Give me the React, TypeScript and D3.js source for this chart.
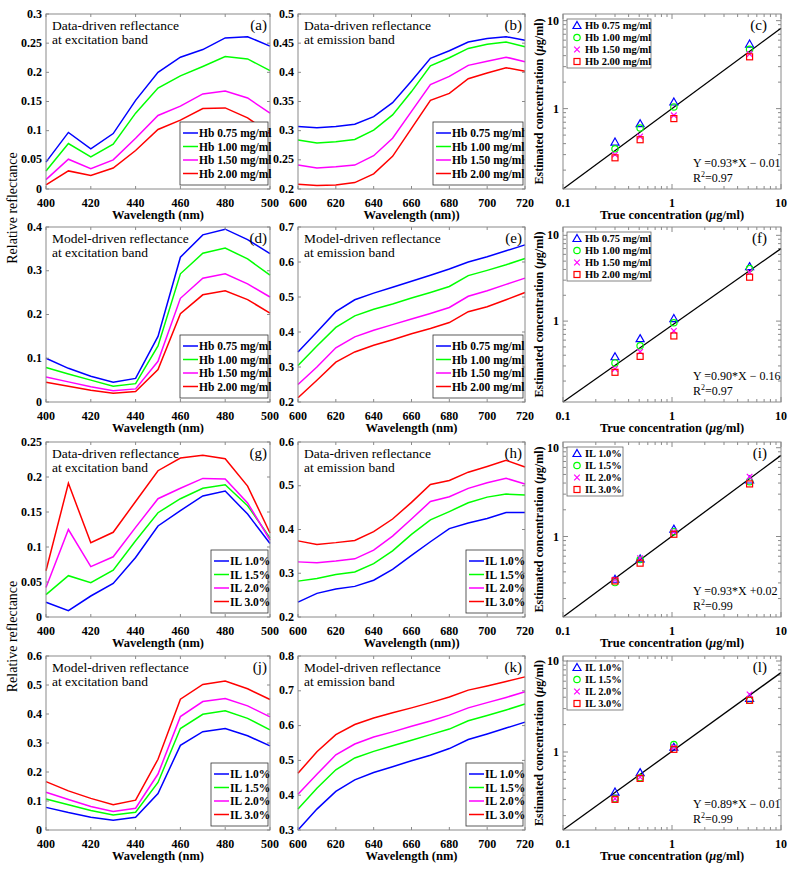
import React from 'react';
import * as d3 from 'd3';

const FONT = '"Liberation Serif","Times New Roman",Times,serif';
const COLORS = ['#0000ff', '#00ff00', '#ff00ff', '#ff0000'];
const HB_LABELS = ['Hb 0.75 mg/ml', 'Hb 1.00 mg/ml', 'Hb 1.50 mg/ml', 'Hb 2.00 mg/ml'];
const IL_LABELS = ['IL 1.0%', 'IL 1.5%', 'IL 2.0%', 'IL 3.0%'];

const WL_EX = [400, 410, 420, 430, 440, 450, 460, 470, 480, 490, 500];
const WL_EM = [600, 610, 620, 630, 640, 650, 660, 670, 680, 690, 700, 710, 720];
const X_TICKS_EX = [400, 420, 440, 460, 480, 500];
const X_TICKS_EM = [600, 620, 640, 660, 680, 700, 720];

// (a) data-driven excitation, Hb
const A_SERIES = [
  [0.046, 0.097, 0.069, 0.095, 0.152, 0.2, 0.226, 0.239, 0.259, 0.261, 0.245],
  [0.031, 0.078, 0.055, 0.077, 0.13, 0.173, 0.194, 0.21, 0.227, 0.223, 0.203],
  [0.016, 0.051, 0.035, 0.05, 0.087, 0.126, 0.142, 0.163, 0.168, 0.156, 0.13],
  [0.007, 0.031, 0.023, 0.036, 0.066, 0.102, 0.118, 0.138, 0.139, 0.122, 0.095],
];
// (b) data-driven emission, Hb
const B_SERIES = [
  [0.307, 0.305, 0.307, 0.311, 0.324, 0.348, 0.385, 0.424, 0.437, 0.452, 0.458, 0.461, 0.455],
  [0.284, 0.279, 0.281, 0.285, 0.301, 0.327, 0.367, 0.411, 0.425, 0.441, 0.448, 0.452, 0.444],
  [0.241, 0.236, 0.238, 0.241, 0.257, 0.287, 0.333, 0.379, 0.393, 0.412, 0.419, 0.426, 0.418],
  [0.208, 0.206, 0.207, 0.211, 0.226, 0.256, 0.304, 0.352, 0.364, 0.389, 0.399, 0.408, 0.402],
];
// (d) model-driven excitation, Hb
const D_SERIES = [
  [0.1, 0.077, 0.059, 0.045, 0.054, 0.15, 0.331, 0.382, 0.395, 0.371, 0.339],
  [0.079, 0.064, 0.05, 0.036, 0.042, 0.128, 0.293, 0.34, 0.352, 0.327, 0.29],
  [0.057, 0.046, 0.035, 0.026, 0.03, 0.093, 0.237, 0.283, 0.293, 0.27, 0.24],
  [0.045, 0.036, 0.027, 0.02, 0.024, 0.074, 0.202, 0.245, 0.254, 0.234, 0.203],
];
// (e) model-driven emission, Hb
const E_SERIES = [
  [0.343, 0.4, 0.458, 0.492, 0.511, 0.528, 0.545, 0.562, 0.58, 0.6, 0.615, 0.632, 0.649],
  [0.304, 0.36, 0.413, 0.446, 0.465, 0.48, 0.497, 0.513, 0.53, 0.561, 0.576, 0.592, 0.61],
  [0.25, 0.3, 0.355, 0.386, 0.405, 0.421, 0.437, 0.453, 0.47, 0.502, 0.518, 0.536, 0.554],
  [0.212, 0.262, 0.314, 0.343, 0.362, 0.378, 0.395, 0.41, 0.427, 0.458, 0.472, 0.492, 0.513],
];
// (g) data-driven excitation, IL
const G_SERIES = [
  [0.021, 0.009, 0.03, 0.048, 0.085, 0.13, 0.152, 0.173, 0.18, 0.147, 0.105],
  [0.032, 0.059, 0.049, 0.067, 0.109, 0.149, 0.169, 0.184, 0.189, 0.159, 0.113],
  [0.042, 0.125, 0.072, 0.086, 0.128, 0.169, 0.184, 0.198, 0.197, 0.163, 0.11],
  [0.066, 0.191, 0.106, 0.121, 0.165, 0.209, 0.227, 0.231, 0.226, 0.187, 0.12],
];
// (h) data-driven emission, IL
const H_SERIES = [
  [0.234, 0.254, 0.264, 0.27, 0.284, 0.309, 0.341, 0.372, 0.402, 0.415, 0.425, 0.439, 0.439],
  [0.282, 0.288, 0.297, 0.303, 0.322, 0.351, 0.389, 0.422, 0.441, 0.461, 0.474, 0.481, 0.479],
  [0.326, 0.324, 0.328, 0.333, 0.353, 0.385, 0.424, 0.464, 0.475, 0.494, 0.507, 0.517, 0.504],
  [0.374, 0.366, 0.37, 0.375, 0.395, 0.424, 0.462, 0.503, 0.512, 0.531, 0.544, 0.558, 0.543],
];
// (j) model-driven excitation, IL
const J_SERIES = [
  [0.078, 0.06, 0.044, 0.034, 0.044, 0.126, 0.292, 0.339, 0.35, 0.325, 0.29],
  [0.107, 0.087, 0.067, 0.052, 0.061, 0.164, 0.35, 0.399, 0.411, 0.385, 0.345],
  [0.13, 0.105, 0.081, 0.064, 0.075, 0.193, 0.391, 0.443, 0.453, 0.428, 0.39],
  [0.167, 0.135, 0.109, 0.087, 0.103, 0.244, 0.451, 0.502, 0.514, 0.487, 0.45],
];
// (k) model-driven emission, IL
const K_SERIES = [
  [0.3, 0.36, 0.411, 0.444, 0.465, 0.482, 0.499, 0.515, 0.534, 0.56, 0.576, 0.593, 0.61],
  [0.36, 0.42, 0.473, 0.507, 0.526, 0.542, 0.558, 0.574, 0.59, 0.614, 0.629, 0.645, 0.662],
  [0.403, 0.46, 0.516, 0.547, 0.567, 0.582, 0.598, 0.613, 0.63, 0.651, 0.666, 0.681, 0.697],
  [0.463, 0.525, 0.574, 0.603, 0.622, 0.637, 0.651, 0.666, 0.682, 0.702, 0.714, 0.727, 0.74],
];

// scatter panels: true concentration vs estimated
const TRUE_CONC = [0.3, 0.51, 1.04, 5.15];
const C_SERIES = [
  [0.417, 0.674, 1.19, 5.42],
  [0.35, 0.602, 1.045, 4.71],
  [0.3, 0.483, 0.84, 4.17],
  [0.276, 0.443, 0.77, 3.88],
];
const F_SERIES = [
  [0.384, 0.625, 1.07, 4.31],
  [0.325, 0.515, 0.956, 4.09],
  [0.277, 0.439, 0.767, 3.71],
  [0.253, 0.388, 0.671, 3.25],
];
const I_SERIES = [
  [0.33, 0.56, 1.21, 4.33],
  [0.303, 0.55, 1.13, 4.15],
  [0.327, 0.57, 1.13, 4.72],
  [0.316, 0.501, 1.06, 3.91],
];
const L_SERIES = [
  [0.363, 0.593, 1.13, 3.89],
  [0.307, 0.523, 1.21, 3.7],
  [0.307, 0.53, 1.13, 4.3],
  [0.302, 0.513, 1.07, 3.7],
];
const FIT_C = [[0.1, 0.122], [10, 8.2]];
const FIT_F = [[0.1, 0.114], [10, 7.0]];
const FIT_I = [[0.1, 0.124], [10, 8.2]];
const FIT_L = [[0.1, 0.139], [10, 7.45]];

const COLS = [[46, 270], [298, 525], [563, 781]];
const ROWS = [[14, 189], [227, 402], [442, 617], [656, 830]];
const AXIS_GRAY = '#8a8a8a';

type LineCfg = {
  col: number; row: number; wl: number[]; series: number[][]; xDomain: number[]; xTicks: number[];
  yDomain: number[]; yTicks: number[]; titles: string[]; tag: string; legend: string[]; legendW: number; xLabel: string;
};

function fmt(v: number) {
  return String(+v.toFixed(3));
}

function LinePanel({ c }: { c: LineCfg }) {
  const [x0, x1] = COLS[c.col];
  const [y0, y1] = ROWS[c.row];
  const xs = d3.scaleLinear().domain(c.xDomain).range([x0, x1]);
  const ys = d3.scaleLinear().domain(c.yDomain).range([y1, y0]);
  const line = d3.line<number>().x((_, i) => xs(c.wl[i])).y((d) => ys(d));
  const tl = 3;
  const lgH = 63;
  const lgX = x1 - 2 - c.legendW;
  const lgY = y1 - 4 - lgH;
  return (
    <g>
      <rect x={x0} y={y0} width={x1 - x0} height={y1 - y0} fill="#fff" stroke="none" />
      {c.series.map((s, i) => (
        <path key={i} d={line(s) || ''} fill="none" stroke={COLORS[i]} strokeWidth={1.5} />
      ))}
      <rect x={x0} y={y0} width={x1 - x0} height={y1 - y0} fill="none" stroke={AXIS_GRAY} strokeWidth={1} />
      {c.xTicks.map((t) => (
        <g key={'x' + t}>
          <line x1={xs(t)} x2={xs(t)} y1={y1} y2={y1 - tl} stroke={AXIS_GRAY} />
          <line x1={xs(t)} x2={xs(t)} y1={y0} y2={y0 + tl} stroke={AXIS_GRAY} />
          <text x={xs(t)} y={y1 + 17.5} textAnchor="middle" fontFamily={FONT} fontWeight="bold" fontSize={12}>{t}</text>
        </g>
      ))}
      {c.yTicks.map((t) => (
        <g key={'y' + t}>
          <line x1={x0} x2={x0 + tl} y1={ys(t)} y2={ys(t)} stroke={AXIS_GRAY} />
          <line x1={x1} x2={x1 - tl} y1={ys(t)} y2={ys(t)} stroke={AXIS_GRAY} />
          <text x={x0 - 4} y={ys(t) + 3.5} textAnchor="end" fontFamily={FONT} fontWeight="bold" fontSize={12}>{fmt(t)}</text>
        </g>
      ))}
      <text x={x0 + 6} y={y0 + 16} fontFamily={FONT} fontSize={13.5}>{c.titles[0]}</text>
      <text x={x0 + 6} y={y0 + 30} fontFamily={FONT} fontSize={13.5}>{c.titles[1]}</text>
      <text x={x1 - 3} y={y0 + 16} textAnchor="end" fontFamily={FONT} fontSize={15}>{c.tag}</text>
      <text x={(x0 + x1) / 2} y={y1 + 30} textAnchor="middle" fontFamily={FONT} fontWeight="bold" fontSize={12.5}>{c.xLabel}</text>
      <g>
        <rect x={lgX} y={lgY} width={c.legendW} height={lgH} fill="#fff" stroke="#333" strokeWidth={0.8} />
        {c.legend.map((l, i) => {
          const cy = lgY + 11 + i * 13.5;
          return (
            <g key={l}>
              <line x1={lgX + 3} x2={lgX + 18} y1={cy} y2={cy} stroke={COLORS[i]} strokeWidth={1.5} />
              <text x={lgX + 19} y={cy + 4} fontFamily={FONT} fontWeight="bold" fontSize={11.5}>{l}</text>
            </g>
          );
        })}
      </g>
    </g>
  );
}

type ScatterCfg = {
  col: number; row: number; yDomain: number[]; series: number[][]; fit: number[][]; tag: string;
  legend: string[]; legendW: number; eq: string; r2: string;
};

function Marker({ i, x, y }: { i: number; x: number; y: number }) {
  const col = COLORS[i];
  if (i === 0) {
    const s = 4;
    return <path d={`M${x},${y - s}L${x + s},${y + s * 0.75}L${x - s},${y + s * 0.75}Z`} fill="none" stroke={col} strokeWidth={1.2} />;
  }
  if (i === 1) return <circle cx={x} cy={y} r={3.2} fill="none" stroke={col} strokeWidth={1.2} />;
  if (i === 2) {
    const s = 2.8;
    return <path d={`M${x - s},${y - s}L${x + s},${y + s}M${x - s},${y + s}L${x + s},${y - s}`} stroke={col} strokeWidth={1.2} />;
  }
  return <rect x={x - 3} y={y - 3} width={6} height={6} fill="none" stroke={col} strokeWidth={1.2} />;
}

function ScatterPanel({ c }: { c: ScatterCfg }) {
  const [x0, x1] = COLS[c.col];
  const [y0, y1] = ROWS[c.row];
  const xs = d3.scaleLog().domain([0.1, 10]).range([x0, x1]);
  const ys = d3.scaleLog().domain(c.yDomain).range([y1, y0]);
  const fitLine = d3.line<number[]>().x((d) => xs(d[0])).y((d) => ys(d[1]));
  const minor: number[] = [];
  [0.1, 1, 10].forEach((dec) => {
    for (let m = 1; m <= 9; m++) minor.push(+(dec * m).toFixed(3));
  });
  const xMin = minor.filter((v) => v >= 0.1 && v <= 10);
  const yMin = minor.filter((v) => v >= c.yDomain[0] && v <= c.yDomain[1]);
  const isMajor = (v: number) => v === 0.1 || v === 1 || v === 10;
  const lgX = x0 + 4;
  const lgY = y0 + 5;
  const lgH = 49;
  return (
    <g>
      <rect x={x0} y={y0} width={x1 - x0} height={y1 - y0} fill="#fff" />
      {xMin.map((v) => {
        const L = isMajor(v) ? 5 : 3;
        return (
          <g key={'x' + v}>
            <line x1={xs(v)} x2={xs(v)} y1={y1} y2={y1 - L} stroke={AXIS_GRAY} />
            <line x1={xs(v)} x2={xs(v)} y1={y0} y2={y0 + L} stroke={AXIS_GRAY} />
          </g>
        );
      })}
      {yMin.map((v) => {
        const L = isMajor(v) ? 5 : 3;
        return (
          <g key={'y' + v}>
            <line x1={x0} x2={x0 + L} y1={ys(v)} y2={ys(v)} stroke={AXIS_GRAY} />
            <line x1={x1} x2={x1 - L} y1={ys(v)} y2={ys(v)} stroke={AXIS_GRAY} />
          </g>
        );
      })}
      <path d={fitLine(c.fit) || ''} stroke="#000" strokeWidth={1.3} fill="none" />
      {c.series.map((s, i) => (
        <g key={i}>
          {s.map((v, j) => (
            <Marker key={j} i={i} x={xs(TRUE_CONC[j])} y={ys(v)} />
          ))}
        </g>
      ))}
      <rect x={x0} y={y0} width={x1 - x0} height={y1 - y0} fill="none" stroke={AXIS_GRAY} />
      {[0.1, 1, 10].map((t) => (
        <text key={'xl' + t} x={xs(t)} y={y1 + 17.5} textAnchor="middle" fontFamily={FONT} fontWeight="bold" fontSize={12}>{t}</text>
      ))}
      {[0.1, 1, 10].filter((t) => t >= c.yDomain[0] && t <= c.yDomain[1]).map((t) => (
        <text key={'yl' + t} x={x0 - 4} y={ys(t) + 4} textAnchor="end" fontFamily={FONT} fontWeight="bold" fontSize={12}>{t}</text>
      ))}
      <text x={x1 - 14} y={y0 + 16} textAnchor="end" fontFamily={FONT} fontSize={15}>{c.tag}</text>
      <text x={x1 - 88} y={y1 - 22} fontFamily={FONT} fontSize={12}>{c.eq}</text>
      <text x={x1 - 88} y={y1 - 7} fontFamily={FONT} fontSize={12}>
        R<tspan dy={-5} fontSize={8}>2</tspan><tspan dy={5}>{c.r2}</tspan>
      </text>
      <text x={(x0 + x1) / 2} y={y1 + 30} textAnchor="middle" fontFamily={FONT} fontWeight="bold" fontSize={12.5}>
        True concentration (<tspan fontStyle="italic">μ</tspan>g/ml)
      </text>
      <text transform={`translate(${x0 - 20},${(y0 + y1) / 2}) rotate(-90)`} textAnchor="middle" fontFamily={FONT} fontWeight="bold" fontSize={12}>
        Estimated concentration (<tspan fontStyle="italic">μ</tspan>g/ml)
      </text>
      <g>
        <rect x={lgX} y={lgY} width={c.legendW} height={lgH} fill="#fff" stroke="#666" strokeWidth={0.8} />
        {c.legend.map((l, i) => {
          const cy = lgY + 6.5 + i * 12;
          return (
            <g key={l}>
              <Marker i={i} x={lgX + 10} y={cy} />
              <text x={lgX + 18} y={cy + 3.8} fontFamily={FONT} fontWeight="bold" fontSize={10.5}>{l}</text>
            </g>
          );
        })}
      </g>
    </g>
  );
}

const Y_TICKS_A = [0, 0.05, 0.1, 0.15, 0.2, 0.25, 0.3];
const Y_TICKS_B = [0.2, 0.25, 0.3, 0.35, 0.4, 0.45, 0.5];
const Y_TICKS_D = [0, 0.1, 0.2, 0.3, 0.4];
const Y_TICKS_E = [0.2, 0.3, 0.4, 0.5, 0.6, 0.7];
const Y_TICKS_G = [0, 0.05, 0.1, 0.15, 0.2, 0.25];
const Y_TICKS_H = [0.2, 0.3, 0.4, 0.5, 0.6];
const Y_TICKS_J = [0, 0.1, 0.2, 0.3, 0.4, 0.5, 0.6];
const Y_TICKS_K = [0.3, 0.4, 0.5, 0.6, 0.7, 0.8];

const T_DATA_EX = ['Data-driven reflectance', 'at excitation band'];
const T_DATA_EM = ['Data-driven reflectance', 'at emission band'];
const T_MODEL_EX = ['Model-driven reflectance', 'at excitation band'];
const T_MODEL_EM = ['Model-driven reflectance', 'at emission band'];

const LINE_PANELS: LineCfg[] = [
  { col: 0, row: 0, wl: WL_EX, series: A_SERIES, xDomain: [400, 500], xTicks: X_TICKS_EX, yDomain: [0, 0.3], yTicks: Y_TICKS_A, titles: T_DATA_EX, tag: '(a)', legend: HB_LABELS, legendW: 88, xLabel: 'Wavelength (nm)' },
  { col: 1, row: 0, wl: WL_EM, series: B_SERIES, xDomain: [600, 720], xTicks: X_TICKS_EM, yDomain: [0.2, 0.5], yTicks: Y_TICKS_B, titles: T_DATA_EM, tag: '(b)', legend: HB_LABELS, legendW: 90, xLabel: 'Wavelength (nm))' },
  { col: 0, row: 1, wl: WL_EX, series: D_SERIES, xDomain: [400, 500], xTicks: X_TICKS_EX, yDomain: [0, 0.4], yTicks: Y_TICKS_D, titles: T_MODEL_EX, tag: '(d)', legend: HB_LABELS, legendW: 88, xLabel: 'Wavelength (nm)' },
  { col: 1, row: 1, wl: WL_EM, series: E_SERIES, xDomain: [600, 720], xTicks: X_TICKS_EM, yDomain: [0.2, 0.7], yTicks: Y_TICKS_E, titles: T_MODEL_EM, tag: '(e)', legend: HB_LABELS, legendW: 90, xLabel: 'Wavelength (nm)' },
  { col: 0, row: 2, wl: WL_EX, series: G_SERIES, xDomain: [400, 500], xTicks: X_TICKS_EX, yDomain: [0, 0.25], yTicks: Y_TICKS_G, titles: T_DATA_EX, tag: '(g)', legend: IL_LABELS, legendW: 57, xLabel: 'Wavelength (nm)' },
  { col: 1, row: 2, wl: WL_EM, series: H_SERIES, xDomain: [600, 720], xTicks: X_TICKS_EM, yDomain: [0.2, 0.6], yTicks: Y_TICKS_H, titles: T_DATA_EM, tag: '(h)', legend: IL_LABELS, legendW: 57, xLabel: 'Wavelength (nm))' },
  { col: 0, row: 3, wl: WL_EX, series: J_SERIES, xDomain: [400, 500], xTicks: X_TICKS_EX, yDomain: [0, 0.6], yTicks: Y_TICKS_J, titles: T_MODEL_EX, tag: '(j)', legend: IL_LABELS, legendW: 57, xLabel: 'Wavelength (nm)' },
  { col: 1, row: 3, wl: WL_EM, series: K_SERIES, xDomain: [600, 720], xTicks: X_TICKS_EM, yDomain: [0.3, 0.8], yTicks: Y_TICKS_K, titles: T_MODEL_EM, tag: '(k)', legend: IL_LABELS, legendW: 57, xLabel: 'Wavelength (nm)' },
];

const SCATTER_PANELS: ScatterCfg[] = [
  { col: 2, row: 0, yDomain: [0.122, 11.9], series: C_SERIES, fit: FIT_C, tag: '(c)', legend: HB_LABELS, legendW: 84, eq: 'Y =0.93*X − 0.01', r2: '=0.97' },
  { col: 2, row: 1, yDomain: [0.114, 12.5], series: F_SERIES, fit: FIT_F, tag: '(f)', legend: HB_LABELS, legendW: 84, eq: 'Y =0.90*X − 0.16', r2: '=0.97' },
  { col: 2, row: 2, yDomain: [0.124, 11.6], series: I_SERIES, fit: FIT_I, tag: '(i)', legend: IL_LABELS, legendW: 56, eq: 'Y =0.93*X +0.02', r2: '=0.99' },
  { col: 2, row: 3, yDomain: [0.139, 11.35], series: L_SERIES, fit: FIT_L, tag: '(l)', legend: IL_LABELS, legendW: 56, eq: 'Y =0.89*X − 0.01', r2: '=0.99' },
];

export default function App() {
  return (
    <svg width={800} height={872} style={{ position: 'absolute', left: 0, top: 0, background: '#fff' }}>
      <rect x={0} y={0} width={800} height={872} fill="#fff" />
      {LINE_PANELS.map((c) => <LinePanel key={c.tag} c={c} />)}
      {SCATTER_PANELS.map((c) => <ScatterPanel key={c.tag} c={c} />)}
      <text transform={`translate(17,${(ROWS[0][1] + ROWS[1][0]) / 2}) rotate(-90)`} textAnchor="middle" fontFamily={FONT} fontSize={14}>Relative reflectance</text>
      <text transform={`translate(17,${(ROWS[2][1] + ROWS[3][0]) / 2}) rotate(-90)`} textAnchor="middle" fontFamily={FONT} fontSize={14}>Relative reflectance</text>
    </svg>
  );
}
